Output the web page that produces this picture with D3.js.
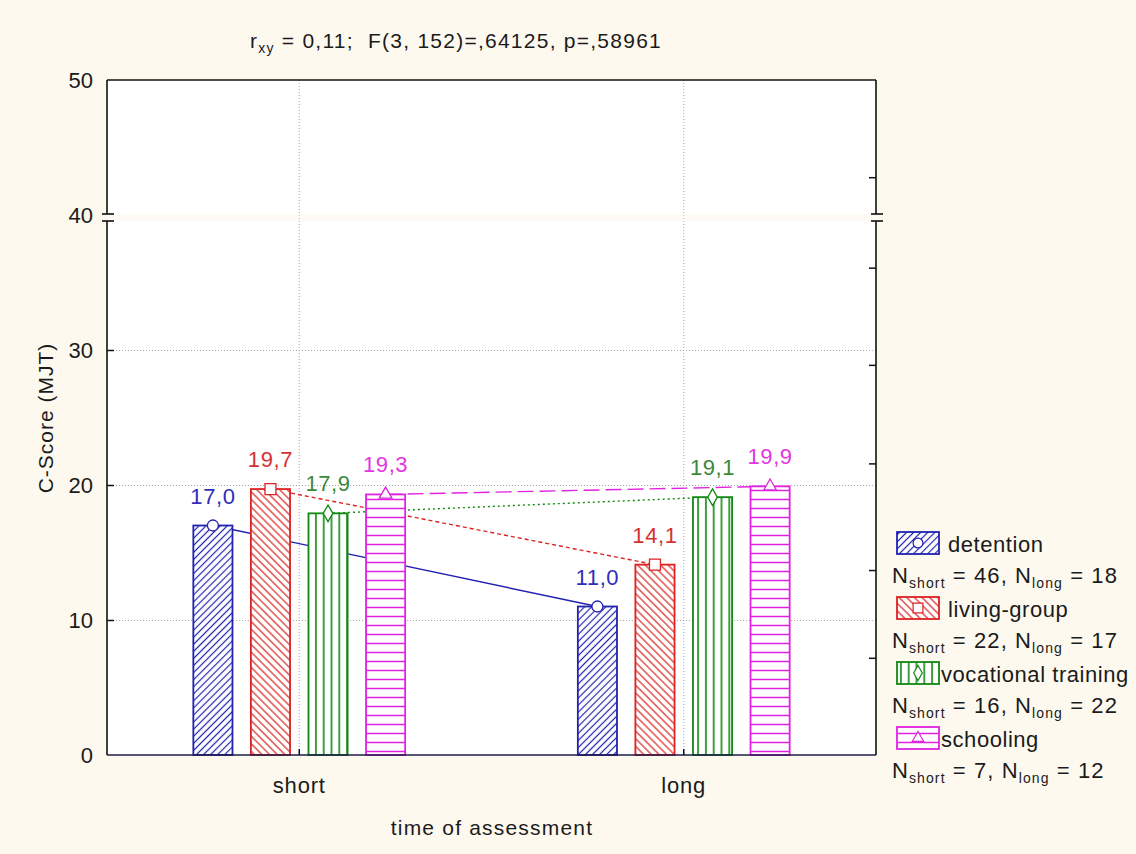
<!DOCTYPE html>
<html>
<head>
<meta charset="utf-8">
<script src="https://cdn.jsdelivr.net/npm/d3@7/dist/d3.min.js"></script>
<style>
  html, body { margin: 0; padding: 0; background: #fdf9ef; }
  svg { display: block; font-family: "Liberation Sans", Arial, sans-serif; }
  text { white-space: pre; }
</style>
</head>
<body>
<svg id="chart" width="1136" height="854"></svg>
<script>
// ---- data ----------------------------------------------------------
const categories = ["short", "long"];
const seriesNames = ["detention", "living-group", "vocational training", "schooling"];
const detention = [17.0, 11.0];
const livingGroup = [19.7, 14.1];
const vocationalTraining = [17.9, 19.1];
const schooling = [19.3, 19.9];
const nShort = [46, 22, 16, 7];
const nLong = [18, 17, 22, 12];
const yTicks = [0, 10, 20, 30, 40, 50];
const rightTicks = [7.2, 13.7, 21.6, 28.9, 36.1, 42.8];
const yBreak = 40;
const statR = "0,11";
const statF = "F(3, 152)=,64125, p=,58961";

// ---- styling per series -------------------------------------------
const seriesValues = [detention, livingGroup, vocationalTraining, schooling];
const colors = ["#2222b0", "#dc2222", "#118811", "#e022e0"];
const labelColors = ["#2e2eb8", "#d43232", "#3a8a3a", "#e236e2"];
const symbols = [d3.symbolCircle, d3.symbolSquare, d3.symbolDiamond, d3.symbolTriangle];
const symbolSizes = [95, 120, 80, 70];
const dashes = [null, "4,3", "2,3", "16,6"];

const FONT = 21;
const INK = "#1b1b1b";
const svg = d3.select("#chart");
const W = 1136, H = 854;
const plot = { left: 107, right: 876, top: 80, bottom: 755 };

svg.append("rect").attr("width", W).attr("height", H).attr("fill", "#fdf9ef");
svg.append("rect")
  .attr("x", plot.left).attr("y", plot.top)
  .attr("width", plot.right - plot.left).attr("height", plot.bottom - plot.top)
  .attr("fill", "#ffffff");

// ---- hatch patterns ------------------------------------------------
const defs = svg.append("defs");
function hatch(id, color, spacing, rotate, width) {
  const p = defs.append("pattern")
    .attr("id", id)
    .attr("patternUnits", "userSpaceOnUse")
    .attr("width", spacing).attr("height", spacing)
    .attr("patternTransform", `rotate(${rotate})`);
  p.append("rect").attr("width", spacing).attr("height", spacing).attr("fill", "#fff");
  p.append("line")
    .attr("x1", spacing / 2).attr("y1", 0)
    .attr("x2", spacing / 2).attr("y2", spacing)
    .attr("stroke", color).attr("stroke-width", width);
}
hatch("pat0", colors[0], 5.0, 45, 1.2);
hatch("pat1", colors[1], 5.4, -45, 1.2);
hatch("pat2", colors[2], 7.8, 0, 1.6);
hatch("pat3", colors[3], 9, 90, 1.5);

// ---- scales --------------------------------------------------------
const y = d3.scaleLinear().domain([0, 50]).range([plot.bottom, plot.top]);
const x0 = d3.scaleBand().domain(categories).range([plot.left, plot.right]);
const x1 = d3.scaleBand().domain(seriesNames).range([0, x0.bandwidth()])
  .paddingInner(0.32).paddingOuter(1.5);

const yB = y(yBreak);

// ---- grid ----------------------------------------------------------
const grid = svg.append("g").attr("stroke", "#a8a8a8").attr("stroke-dasharray", "1,2").attr("stroke-width", 1);
grid.selectAll("line.h").data(yTicks.filter(t => t > 0 && t < yBreak)).join("line")
  .attr("x1", plot.left).attr("x2", plot.right)
  .attr("y1", d => y(d) + 0.5).attr("y2", d => y(d) + 0.5);
grid.selectAll("line.v").data(categories).join("line")
  .attr("x1", d => x0(d) + x0.bandwidth() / 2).attr("x2", d => x0(d) + x0.bandwidth() / 2)
  .attr("y1", plot.top).attr("y2", plot.bottom);

// scale-break band
svg.append("rect")
  .attr("x", plot.left).attr("y", yB - 1)
  .attr("width", plot.right - plot.left).attr("height", 7)
  .attr("fill", "#fbf3e6").attr("opacity", 0.35);

// ---- series --------------------------------------------------------
const series = seriesNames.map((name, i) => ({
  name, i,
  points: categories.map((c, j) => ({ cat: c, value: seriesValues[i][j] }))
}));
const cx = (s, p) => x0(p.cat) + x1(s.name) + x1.bandwidth() / 2;

// connecting lines (drawn under the bars)
const line = d3.line().x(d => d.x).y(d => d.y);
svg.append("g").selectAll("path").data(series).join("path")
  .attr("d", s => line(s.points.map(p => ({ x: cx(s, p), y: y(p.value) }))))
  .attr("fill", "none")
  .attr("stroke", s => colors[s.i])
  .attr("stroke-width", 1.4)
  .attr("stroke-dasharray", s => dashes[s.i]);

// bars
const bars = svg.append("g");
series.forEach(s => {
  bars.selectAll(null).data(s.points).join("rect")
    .attr("x", p => x0(p.cat) + x1(s.name))
    .attr("y", p => y(p.value))
    .attr("width", x1.bandwidth())
    .attr("height", p => y(0) - y(p.value))
    .attr("fill", `url(#pat${s.i})`)
    .attr("stroke", colors[s.i])
    .attr("stroke-width", 1.8);
});

// markers
series.forEach(s => {
  svg.append("g").selectAll("path").data(s.points).join("path")
    .attr("transform", p => `translate(${cx(s, p)},${y(p.value)})`)
    .attr("d", d3.symbol().type(symbols[s.i]).size(symbolSizes[s.i]))
    .attr("fill", "#fff")
    .attr("stroke", colors[s.i])
    .attr("stroke-width", 1.3);
});

// value labels
const fmt = v => d3.format(".1f")(v).replace(".", ",");
series.forEach(s => {
  svg.append("g").selectAll("text").data(s.points).join("text")
    .attr("x", p => cx(s, p))
    .attr("y", p => y(p.value) - 22)
    .attr("text-anchor", "middle")
    .attr("font-size", 22)
    .attr("letter-spacing", 0.6)
    .attr("fill", labelColors[s.i])
    .text(p => fmt(p.value));
});

// ---- axes & frame --------------------------------------------------
const frame = svg.append("g").attr("stroke", "#111").attr("stroke-width", 1.6).attr("fill", "none");
frame.append("line").attr("x1", plot.left).attr("x2", plot.right).attr("y1", plot.top).attr("y2", plot.top);
[plot.left, plot.right].forEach(xx => {
  frame.append("line").attr("x1", xx).attr("x2", xx).attr("y1", plot.top).attr("y2", yB - 1);
  frame.append("line").attr("x1", xx).attr("x2", xx).attr("y1", yB + 6).attr("y2", plot.bottom);
  frame.append("line").attr("x1", xx - 5).attr("x2", xx + 7).attr("y1", yB - 1).attr("y2", yB - 1);
  frame.append("line").attr("x1", xx - 5).attr("x2", xx + 7).attr("y1", yB + 6).attr("y2", yB + 6);
});
frame.append("line").attr("x1", plot.left).attr("x2", plot.right)
  .attr("y1", plot.bottom).attr("y2", plot.bottom).attr("stroke", "#1c1c48");

const leftAxis = svg.append("g").attr("transform", `translate(${plot.left},0)`)
  .call(d3.axisLeft(y).tickValues(yTicks).tickSizeInner(-7).tickSizeOuter(0).tickPadding(14));
leftAxis.select(".domain").remove();
leftAxis.selectAll(".tick line")
  .attr("stroke", "#111").attr("stroke-width", 1.5)
  .attr("display", d => (d > 0 && d < yBreak) ? null : "none");
leftAxis.selectAll(".tick text")
  .attr("font-size", 22).attr("fill", INK).attr("font-family", "Liberation Sans, Arial, sans-serif");

const rightAxis = svg.append("g").attr("transform", `translate(${plot.right},0)`)
  .call(d3.axisLeft(y).tickValues(rightTicks).tickSizeInner(7).tickSizeOuter(0).tickFormat(""));
rightAxis.select(".domain").remove();
rightAxis.selectAll(".tick line").attr("stroke", "#111").attr("stroke-width", 1.5);

const bottomAxis = svg.append("g").attr("transform", `translate(0,${plot.bottom})`)
  .call(d3.axisBottom(x0).tickSizeInner(-6).tickSizeOuter(0).tickPadding(22));
bottomAxis.select(".domain").remove();
bottomAxis.selectAll(".tick line").attr("stroke", "#111").attr("stroke-width", 1.5);
bottomAxis.selectAll(".tick text")
  .attr("font-size", 22).attr("fill", INK).attr("letter-spacing", 0.8)
  .attr("font-family", "Liberation Sans, Arial, sans-serif");

// ---- titles --------------------------------------------------------
const title = svg.append("text")
  .attr("x", 456).attr("y", 48)
  .attr("text-anchor", "middle")
  .attr("font-size", FONT).attr("letter-spacing", 1.25).attr("fill", INK);
title.append("tspan").text("r");
title.append("tspan").attr("font-size", 14).attr("dy", 5).text("xy");
title.append("tspan").attr("dy", -5).text(` = ${statR};  ${statF}`);

svg.append("text")
  .attr("transform", "translate(53,418) rotate(-90)")
  .attr("text-anchor", "middle")
  .attr("font-size", FONT).attr("letter-spacing", 1).attr("fill", INK)
  .text("C-Score (MJT)");

svg.append("text")
  .attr("x", 492).attr("y", 835)
  .attr("text-anchor", "middle")
  .attr("font-size", FONT).attr("letter-spacing", 1.2).attr("fill", INK)
  .text("time of assessment");

// ---- legend --------------------------------------------------------
const legend = svg.append("g");
const textGap = [9, 9, 2, 2];
series.forEach(s => {
  const base = 552 + s.i * 65;
  const sx = 897, sw = 42, sh = 22, sy = base - 20;
  legend.append("rect")
    .attr("x", sx).attr("y", sy).attr("width", sw).attr("height", sh)
    .attr("fill", `url(#pat${s.i})`).attr("stroke", colors[s.i]).attr("stroke-width", 1.8);
  legend.append("path")
    .attr("transform", `translate(${sx + sw / 2},${sy + sh / 2})`)
    .attr("d", d3.symbol().type(symbols[s.i]).size(symbolSizes[s.i] * 0.8))
    .attr("fill", "#fff").attr("stroke", colors[s.i]).attr("stroke-width", 1.2);
  legend.append("text")
    .attr("x", sx + sw + textGap[s.i]).attr("y", base)
    .attr("font-size", 22).attr("letter-spacing", 0.55).attr("fill", INK)
    .text(s.name);
  const t = legend.append("text")
    .attr("x", 892).attr("y", base + 31)
    .attr("font-size", 22).attr("letter-spacing", 1.1).attr("fill", INK);
  t.append("tspan").text("N");
  t.append("tspan").attr("font-size", 14).attr("dy", 5).text("short");
  t.append("tspan").attr("dy", -5).text(` = ${nShort[s.i]}, N`);
  t.append("tspan").attr("font-size", 14).attr("dy", 5).text("long");
  t.append("tspan").attr("dy", -5).text(` = ${nLong[s.i]}`);
});
</script>
</body>
</html>
